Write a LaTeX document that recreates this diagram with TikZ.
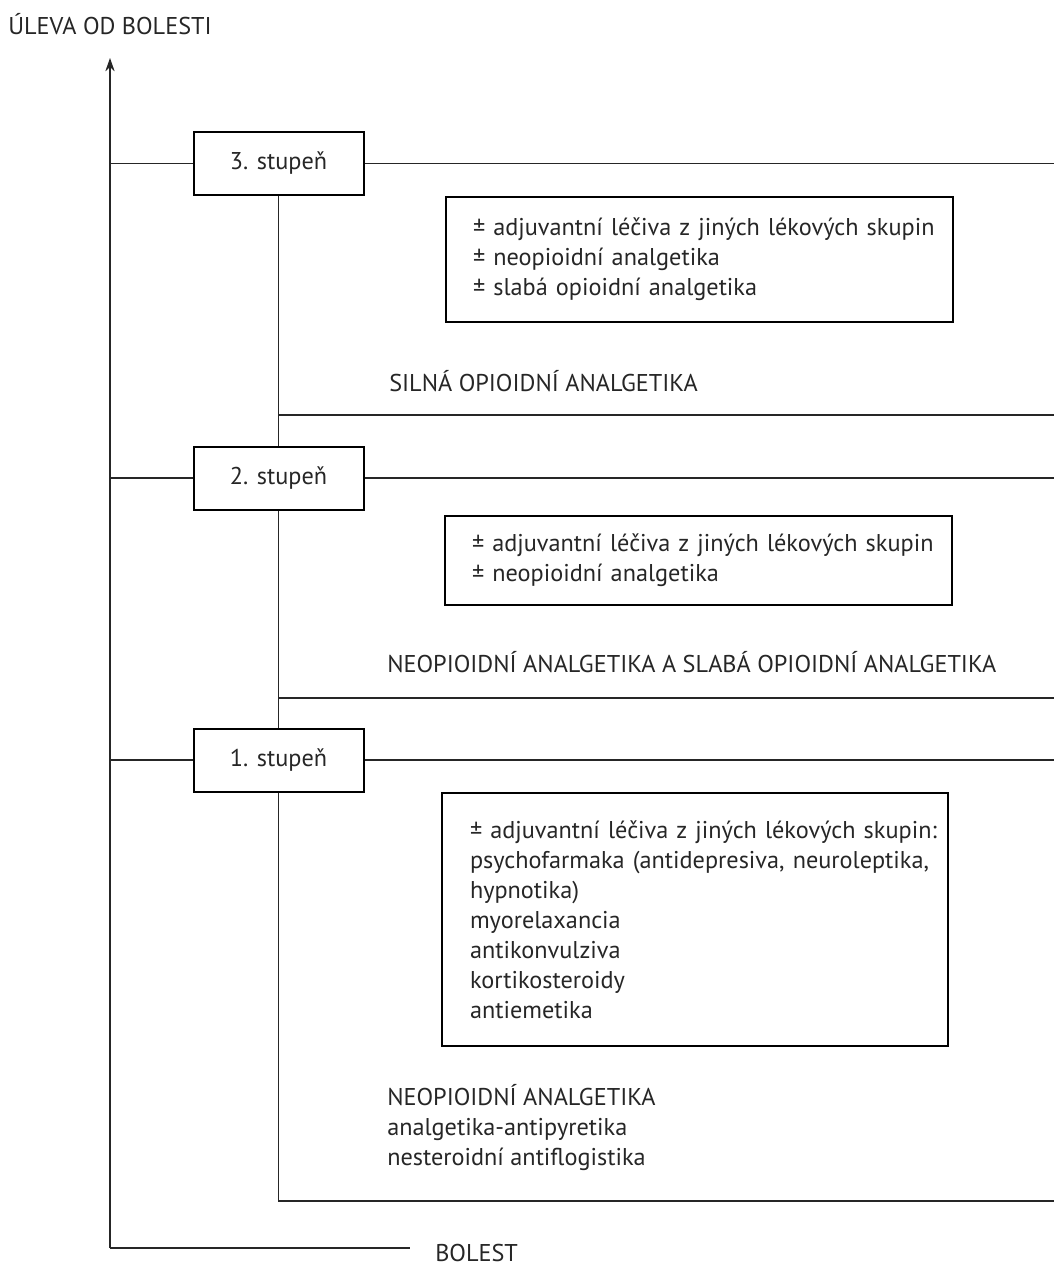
\documentclass[tikz,border=0pt]{standalone}
\usepackage{fontspec}
\setmainfont{PT Sans}
\usetikzlibrary{arrows.meta}
\begin{document}
\begin{tikzpicture}[x=0.75pt,y=-0.75pt,
  every node/.style={font=\fontsize{18.2pt}{22.5pt}\selectfont, text=black!85},
  stagebox/.style={draw, line width=1.5pt, minimum width=127.5pt, minimum height=47.25pt, inner sep=0pt},
  drugbox/.style={draw, line width=0.9pt, align=left, inner ysep=0pt, inner xsep=20.25pt, text width=339.75pt, minimum width=380.25pt},
  label/.style={anchor=west, inner sep=0pt, align=left},
  conn/.style={line width=1.1pt, draw=black!85},
  axis/.style={line width=1.1pt, draw=black!85}]
\useasboundingbox (0,0) rectangle (1054,1268);
% axes
\coordinate (o) at (110,1248);
\coordinate (ytop) at (110,58);
\coordinate (xend) at (410,1248);
\draw[axis, -{Stealth[length=10pt,width=7pt]}] (o) -- (ytop);
\draw[axis] (o) -- (xend);
\node[label] (ylab) at (8,24) {ÚLEVA OD BOLESTI};
\node[anchor=west, inner sep=0pt] (xlab) at (435,1253) {BOLEST};
% stage boxes
\node[stagebox] (s3) at (278.5,163.5) {3. stupeň};
\node[stagebox] (s2) at (278.5,478) {2. stupeň};
\node[stagebox] (s1) at (278.5,760) {1. stupeň};
% coordinates
\coordinate (a3) at (110,163.5);
\coordinate (a2) at (110,478);
\coordinate (a1) at (110,760);
\coordinate (r3) at (1054,163.5);
\coordinate (r2) at (1054,478);
\coordinate (r1) at (1054,760);
\coordinate (j3) at (278.5,415);
\coordinate (k3) at (1054,415);
\coordinate (j2) at (278.5,698);
\coordinate (k2) at (1054,698);
\coordinate (j1) at (278.5,1201);
\coordinate (k1) at (1054,1201);
% connectors
\draw[conn] (a3) -- (s3.west);
\draw[conn] (s3.east) -- (r3);
\draw[conn] (a2) -- (s2.west);
\draw[conn] (s2.east) -- (r2);
\draw[conn] (a1) -- (s1.west);
\draw[conn] (s1.east) -- (r1);
\draw[conn] (s3.south) -- (s2.north);
\draw[conn] (j3) -- (k3);
\draw[conn] (s2.south) -- (s1.north);
\draw[conn] (j2) -- (k2);
\draw[conn] (s1.south) -- (j1) -- (k1);
% drug boxes
\node[drugbox, minimum height=93.75pt] (d3) at (699.5,259.5) {\mbox{± adjuvantní léčiva z jiných lékových skupin}\\± neopioidní analgetika\\± slabá opioidní analgetika};
\node[drugbox, minimum height=66.75pt] (d2) at (698.5,560.5) {\mbox{± adjuvantní léčiva z jiných lékových skupin}\\± neopioidní analgetika};
\node[drugbox, minimum height=189.75pt, inner xsep=21pt, text width=337.5pt, minimum width=379.5pt] (d1) at (695,919.5) {\mbox{± adjuvantní léčiva z jiných lékových skupin:}\\\mbox{psychofarmaka (antidepresiva, neuroleptika,}\\hypnotika)\\myorelaxancia\\antikonvulziva\\kortikosteroidy\\antiemetika};
% level labels
\node[label] (l3) at (389,381) {SILNÁ OPIOIDNÍ ANALGETIKA};
\node[label] (l2) at (387,662) {\mbox{NEOPIOIDNÍ ANALGETIKA A SLABÁ OPIOIDNÍ ANALGETIKA}};
\node[label] (l1) at (387,1128) {NEOPIOIDNÍ ANALGETIKA\\analgetika-antipyretika\\nesteroidní antiflogistika};
\end{tikzpicture}
\end{document}
